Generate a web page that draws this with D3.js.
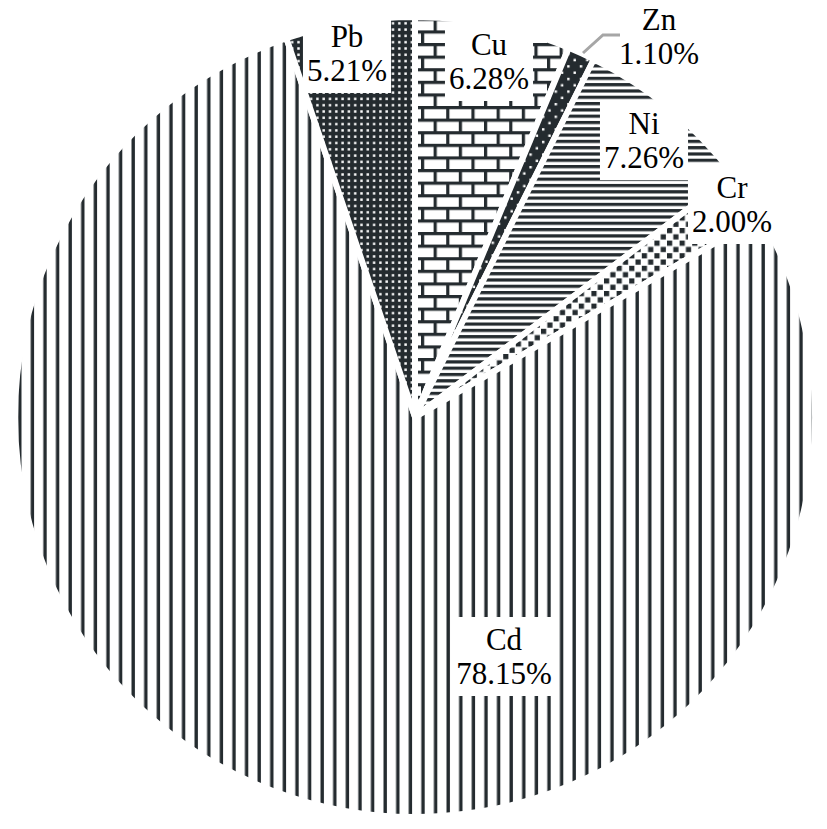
<!DOCTYPE html>
<html><head><meta charset="utf-8">
<script src="https://cdn.jsdelivr.net/npm/d3@7"></script>
<style>html,body{margin:0;padding:0;background:#fff;}
.lbl{font-family:"Liberation Serif","Times New Roman",Times,"DejaVu Serif",serif;font-size:31px;fill:#000;}
</style>
</head><body>
<svg id="chart" width="827" height="829"></svg>
<script>
const categories = ["Cu", "Zn", "Ni", "Cr", "Cd", "Pb"];
const values = [6.28, 1.10, 7.26, 2.00, 78.15, 5.21];
const valueLabels = ["6.28%", "1.10%", "7.26%", "2.00%", "78.15%", "5.21%"];

// layout (not data)
const cx = 415, cy = 417, R = 400;
const dark = "#242b2f";
const labelPos = {Cu:[489,55], Zn:[659,30], Ni:[644,134], Cr:[732,198], Cd:[504,650], Pb:[347,47]};

const svg = d3.select("#chart");
const defs = svg.append("defs");
function pat(id, w, h){
  return defs.append("pattern").attr("id", id).attr("patternUnits","userSpaceOnUse")
    .attr("width", w).attr("height", h);
}
// Cd: vertical lines
let p = pat("p-Cd", 12.6, 12.6);
p.append("rect").attr("width",12.6).attr("height",12.6).attr("fill","#fff");
p.append("rect").attr("x",6.3).attr("width",3.4).attr("height",12.6).attr("fill",dark);
// Pb: dark with small white squares
p = pat("p-Pb", 6.3, 6.3);
p.append("rect").attr("width",6.3).attr("height",6.3).attr("fill",dark);
p.append("rect").attr("x",2).attr("y",2).attr("width",2.4).attr("height",2.4).attr("fill","#fff");
// Ni: horizontal lines
p = pat("p-Ni", 6.3, 6.3);
p.append("rect").attr("width",6.3).attr("height",6.3).attr("fill","#fff");
p.append("rect").attr("width",6.3).attr("height",3.2).attr("fill",dark);
// Cu: bricks
p = pat("p-Cu", 25.2, 25.2).attr("patternTransform","translate(18.6,4)");
p.append("rect").attr("width",25.2).attr("height",25.2).attr("fill","#fff");
p.append("rect").attr("y",0).attr("width",25.2).attr("height",3.2).attr("fill",dark);
p.append("rect").attr("y",12.6).attr("width",25.2).attr("height",3.2).attr("fill",dark);
p.append("rect").attr("x",0).attr("y",0).attr("width",3.2).attr("height",12.6).attr("fill",dark);
p.append("rect").attr("x",12.6).attr("y",12.6).attr("width",3.2).attr("height",12.6).attr("fill",dark);
// Zn: dark with sparse white dots
p = pat("p-Zn", 12.6, 12.6);
p.append("rect").attr("width",12.6).attr("height",12.6).attr("fill",dark);
p.append("rect").attr("x",1).attr("y",1).attr("width",2.4).attr("height",2.4).attr("fill","#fff");
p.append("rect").attr("x",7.3).attr("y",7.3).attr("width",2.4).attr("height",2.4).attr("fill","#fff");
// Cr: dark squares checker
p = pat("p-Cr", 12.6, 12.6);
p.append("rect").attr("width",12.6).attr("height",12.6).attr("fill","#fff");
p.append("rect").attr("x",0).attr("y",0).attr("width",5.2).attr("height",5.2).attr("fill",dark);
p.append("rect").attr("x",6.3).attr("y",6.3).attr("width",5.2).attr("height",5.2).attr("fill",dark);

const data = categories.map((c,i)=>({name:c, value:values[i], label:valueLabels[i]}));
const pie = d3.pie().sort(null).value(d=>d.value).startAngle(0).endAngle(2*Math.PI);
const arc = d3.arc().innerRadius(0).outerRadius(R);

const g = svg.append("g").attr("transform",`translate(${cx},${cy})`);
g.selectAll("path").data(pie(data)).join("path")
  .attr("d", arc)
  .attr("fill", d=>`url(#p-${d.data.name})`)
  .attr("stroke","#fff").attr("stroke-width",6).attr("stroke-linejoin","miter");

// labels
const lg = svg.append("g");
data.forEach(d=>{
  const [x,y] = labelPos[d.name];
  const grp = lg.append("g");
  const t = grp.append("text").attr("class","lbl").attr("x",x).attr("y",y).attr("text-anchor","middle");
  t.append("tspan").attr("x",x).attr("y",y).text(d.name);
  t.append("tspan").attr("x",x).attr("y",y+34).text(d.label);
  const bb = t.node().getBBox();
  grp.insert("rect","text").attr("x",bb.x-4).attr("y",bb.y-5).attr("width",bb.width+8).attr("height",bb.height+10).attr("fill","#fff");
});
// Zn leader line
svg.append("path").attr("d", d3.line()([[583,53],[603,35],[620,35]]))
  .attr("fill","none").attr("stroke","#a6a6a6").attr("stroke-width",3);
</script>
</body></html>
